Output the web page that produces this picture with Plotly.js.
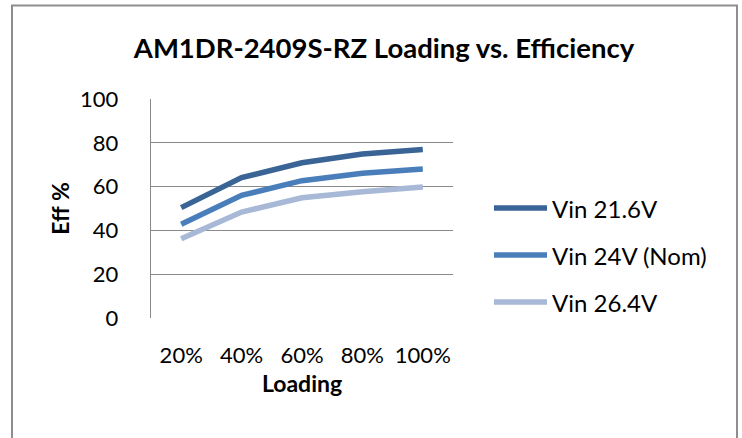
<!DOCTYPE html>
<html>
<head>
<meta charset="utf-8">
<script src="https://cdn.plot.ly/plotly-3.0.1.min.js"></script>
<style>
html,body{margin:0;padding:0;background:#fff;}
#chart{width:742px;height:438px;}
</style>
</head>
<body>
<div id="chart"></div>
<script>
const categories = ["20%", "40%", "60%", "80%", "100%"];
const seriesNames = ["Vin 21.6V", "Vin 24V (Nom)", "Vin 26.4V"];
const vin216 = [50.4, 64.1, 70.9, 74.9, 76.9];
const vin24 = [42.8, 56.0, 62.7, 66.1, 68.0];
const vin264 = [36.2, 48.4, 54.9, 57.7, 59.8];
const yTicks = [0, 20, 40, 60, 80, 100];

const colors = ["#3A6496", "#4A7EBB", "#A7B9D7"];
const allSeries = [vin216, vin24, vin264];
const FONT = "Lato, 'Open Sans', sans-serif";

const traces = allSeries.map((vals, i) => ({
  type: "scatter",
  mode: "lines",
  x: categories,
  y: vals,
  name: seriesNames[i],
  line: {color: colors[i], width: 5.5},
  showlegend: false,
  hoverinfo: "x+y+name"
}));

// plot area in pixels
const L = 151, R = 453, T = 99, B = 318;
const W = 742, H = 438;
const px = x => (x - L) / (R - L);
const py = y => (B - y) / (B - T);

const shapes = [
  {type: "rect", xref: "paper", yref: "paper",
   x0: px(12), x1: px(737), y0: py(445), y1: py(5.5),
   line: {color: "#8E8E8E", width: 2}, fillcolor: "rgba(0,0,0,0)", layer: "below"}
];
const annotations = [];
const legendY = [208, 255, 302];
seriesNames.forEach((nm, i) => {
  shapes.push({type: "line", xref: "paper", yref: "paper",
    x0: px(494), x1: px(547), y0: py(legendY[i]), y1: py(legendY[i]),
    line: {color: colors[i], width: 5.5}});
  annotations.push({xref: "paper", yref: "paper", x: px(550), y: py(legendY[i]),
    xanchor: "left", yanchor: "middle", showarrow: false, text: nm,
    font: {family: FONT, size: 24, color: "#000"}});
});

const layout = {
  width: W, height: H,
  margin: {l: L, r: W - R, t: T, b: H - B, pad: 0},
  paper_bgcolor: "#fff", plot_bgcolor: "#fff",
  showlegend: false,
  title: {text: "<b>AM1DR-2409S-RZ Loading vs. Efficiency</b>",
    x: 384 / W, xanchor: "center", y: 1 - 48 / H, yanchor: "middle",
    font: {family: FONT, size: 27.5, color: "#000"}},
  xaxis: {
    type: "category", range: [-0.5, 4.5],
    showgrid: false, zeroline: false,
    showline: false, ticks: "",
    tickfont: {family: FONT, size: 22, color: "#000"},
    ticklabelstandoff: 22,
    title: {text: "<b>Loading</b>", font: {family: FONT, size: 23, color: "#000"}, standoff: 8},
    fixedrange: true
  },
  yaxis: {
    range: [0, 100], tickvals: yTicks, ticktext: yTicks.map(String),
    showgrid: true, gridcolor: "#8A8A8A", gridwidth: 1.3,
    zeroline: false, showline: true, linecolor: "#8A8A8A", linewidth: 1.3,
    ticks: "", tickfont: {family: FONT, size: 22, color: "#000"},
    ticklabelstandoff: 27,
    title: {text: "<b>Eff %</b>", font: {family: FONT, size: 23, color: "#000"}, standoff: 4},
    fixedrange: true
  },
  shapes: shapes,
  annotations: annotations
};

Plotly.newPlot("chart", traces, layout, {displayModeBar: false, staticPlot: true});
</script>
</body>
</html>
